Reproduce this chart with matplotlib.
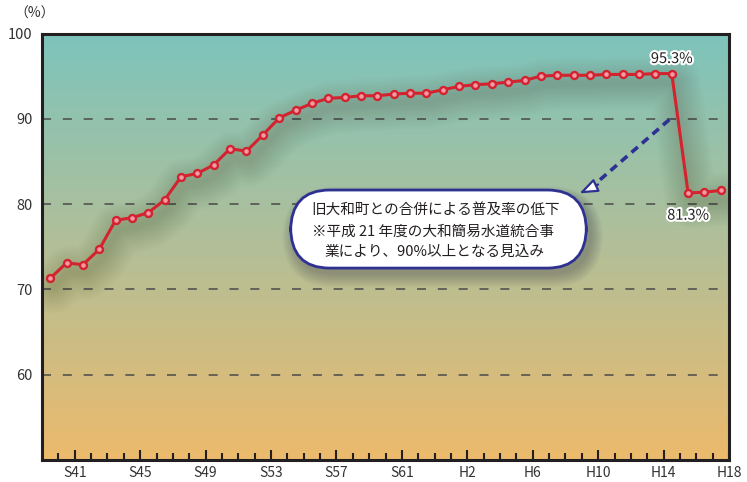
import numpy as np
import matplotlib
matplotlib.use('Agg')
import matplotlib.pyplot as plt
import matplotlib.patches as mpatches
import matplotlib.transforms as mtransforms
import matplotlib.patheffects as pe
from matplotlib.colors import LinearSegmentedColormap

plt.rcParams['font.family'] = ['Noto Sans CJK JP', 'DejaVu Sans']
plt.rcParams['lines.scale_dashes'] = False

# fiscal years S39 .. H17 and water supply coverage (%)
years = np.arange(1964, 2006)
coverage = [71.3, 73.1, 72.9, 74.7, 78.1, 78.4, 79.0, 80.5, 83.2, 83.6,
            84.6, 86.5, 86.2, 88.1, 90.1, 91.0, 91.8, 92.4, 92.5, 92.7,
            92.7, 92.9, 93.0, 93.0, 93.4, 93.8, 94.0, 94.1, 94.3, 94.5,
            95.0, 95.1, 95.1, 95.1, 95.2, 95.2, 95.2, 95.3, 95.3, 81.3,
            81.4, 81.6]

tick_years = [1966, 1970, 1974, 1978, 1982, 1986, 1990, 1994, 1998, 2002, 2006]
tick_labels = ['S41', 'S45', 'S49', 'S53', 'S57', 'S61',
               'H2', 'H6', 'H10', 'H14', 'H18']

note_lines = ['旧大和町との合併による普及率の低下',
              '※平成 21 年度の大和簡易水道統合事',
              '業により、90%以上となる見込み']

red = '#d2232f'
navy = '#2e3192'
ink = '#231f20'

fig = plt.figure(figsize=(7.47, 4.82), dpi=100)
ax = fig.add_axes([42/747, 1-460/482, (729-42)/747, (460-33.5)/482])

# background gradient, teal at the top fading to orange
grad = np.linspace(0, 1, 256).reshape(-1, 1)
cmap = LinearSegmentedColormap.from_list('bg', ['#7dc4bc', '#b2bf98', '#ecba6c'])
ax.imshow(grad, extent=[0, 1, 0, 1], transform=ax.transAxes, aspect='auto',
          cmap=cmap, zorder=0)

ax.set_xlim(1964, 2006)
ax.set_ylim(50, 100)

for yv in [60, 70, 80, 90]:
    ax.axhline(yv, color='#4a4a4a', lw=1.1, linestyle=(0, (6.5, 8.5)), zorder=1)

x = years + 0.5

# soft shadow under the line, many faint strokes
shadow = mtransforms.offset_copy(ax.transData, fig=fig, x=3, y=-9, units='dots')
for w in np.linspace(38, 4, 16):
    ax.plot(x, coverage, color='#3b2e1e', lw=w, alpha=0.012, transform=shadow,
            solid_capstyle='round', solid_joinstyle='round', zorder=2)

ax.plot(x, coverage, color=red, lw=2.2, marker='o', ms=5, mew=1.7,
        mfc='#f39aa8', mec=red, zorder=5)

halo = [pe.withStroke(linewidth=3, foreground='white')]
i_hi = list(years).index(2002)
i_lo = list(years).index(2003)
ax.annotate(f'{coverage[i_hi]}%', (x[i_hi], coverage[i_hi]), xytext=(0, 10.5),
            textcoords='offset points', ha='center', va='center', fontsize=10.5,
            color=ink, path_effects=halo, zorder=6)
ax.annotate(f'{coverage[i_lo]}%', (x[i_lo], coverage[i_lo]), xytext=(0, -16.3),
            textcoords='offset points', ha='center', va='center', fontsize=10.5,
            color=ink, path_effects=halo, zorder=6)

# dashed arrow pointing to the note
ax.plot([2002.35, 1997.6], [89.9, 82.0], color=navy, lw=2.6,
        linestyle=(0, (6, 4)), zorder=4)
ax.annotate('', xy=(1996.85, 81.25), xytext=(1998.0, 82.3),
            arrowprops=dict(arrowstyle='-|>,head_length=1.1,head_width=0.42',
                            color=navy, fc='white', lw=1.6, shrinkA=0, shrinkB=0),
            zorder=4)

# note box with a soft shadow
asp = (727/42) / (426.5/50)
bx, by, bw, bh = 1979.2, 72.5, 18.08, 9.15
for k in np.linspace(2.2, 0.2, 10):
    sh = mpatches.FancyBboxPatch((bx - k*0.35 + 0.25, by - k*0.75 - 0.6),
                                 bw + k*0.7, bh + k*1.2,
                                 boxstyle=f'round,pad=0,rounding_size={2.38 + k*0.35}',
                                 mutation_aspect=asp, fc='#2a2440', ec='none',
                                 alpha=0.03, zorder=6)
    ax.add_patch(sh)
box = mpatches.FancyBboxPatch((bx, by), bw, bh,
                              boxstyle='round,pad=0,rounding_size=2.38',
                              mutation_aspect=asp, fc='white', ec=navy,
                              lw=2, zorder=7)
ax.add_patch(box)
ax.text(1980.49, 79.31, note_lines[0], fontsize=10.5, color=ink,
        ha='left', va='center', zorder=8)
ax.text(1980.49, 76.76, note_lines[1], fontsize=10.5, color=ink,
        ha='left', va='center', zorder=8)
ax.text(1981.28, 74.42, note_lines[2], fontsize=10.5, color=ink,
        ha='left', va='center', zorder=8)

for side in ['top', 'bottom', 'left', 'right']:
    ax.spines[side].set_linewidth(2.2)
    ax.spines[side].set_color(ink)
    ax.spines[side].set_zorder(9)

ax.set_xticks(tick_years)
ax.set_xticklabels(tick_labels)
ax.set_xticks(np.arange(1965, 2006), minor=True)
ax.tick_params(axis='x', which='major', direction='in', length=7.2, width=1.5,
               color=ink, labelsize=10, labelcolor='#333333', pad=4)
ax.tick_params(axis='x', which='minor', direction='in', length=5, width=1.5,
               color=ink)
ax.set_yticks([60, 70, 80, 90, 100])
ax.tick_params(axis='y', length=0, labelsize=10.5, labelcolor='#333333', pad=7)

fig.text(14/747, 1-14/482, '（%）', fontsize=10, color='#333333',
         ha='left', va='center')

plt.savefig('out.png', dpi=100)
plt.close()
